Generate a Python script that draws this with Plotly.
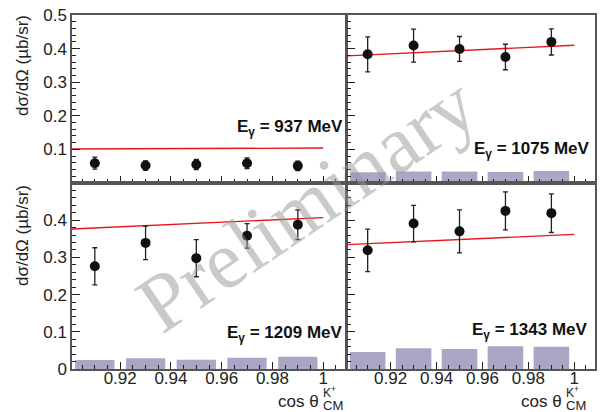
import plotly.graph_objects as go

# cos(theta_CM) bin centres shared by all four photon-energy panels
cos_theta = [0.91, 0.93, 0.95, 0.97, 0.99]

energies = ["937", "1075", "1209", "1343"]

# Measured differential cross sections (ub/sr) and statistical errors
dsdo = {
    "937":  [0.059, 0.052, 0.055, 0.059, 0.051],
    "1075": [0.383, 0.409, 0.399, 0.375, 0.420],
    "1209": [0.276, 0.339, 0.298, 0.358, 0.388],
    "1343": [0.319, 0.391, 0.370, 0.425, 0.419],
}
dsdo_err = {
    "937":  [0.018, 0.014, 0.015, 0.016, 0.014],
    "1075": [0.052, 0.049, 0.037, 0.038, 0.039],
    "1209": [0.050, 0.045, 0.050, 0.033, 0.040],
    "1343": [0.057, 0.049, 0.058, 0.051, 0.052],
}
# Systematic uncertainties (shaded boxes)
syst = {
    "937":  [0.004, 0.004, 0.004, 0.004, 0.004],
    "1075": [0.032, 0.034, 0.034, 0.033, 0.036],
    "1209": [0.024, 0.029, 0.025, 0.030, 0.033],
    "1343": [0.046, 0.056, 0.054, 0.061, 0.060],
}
# Model curves, evaluated at the ends of the angular range
model_x = [0.90, 1.00]
model_y = {
    "937":  [0.101, 0.104],
    "1075": [0.378, 0.410],
    "1209": [0.376, 0.407],
    "1343": [0.334, 0.362],
}

W, H = 605, 412
FONT = "Liberation Sans, Arial, sans-serif"
FS = 17

def px_x(p):
    return p / W

def px_y(p):
    return 1 - p / H

# panel geometry (pixels): left/right columns, top/bottom rows
cols = [(72, 346), (347, 595)]
rows = [(15, 183), (183, 369)]
panel_of = {"937": (0, 0), "1075": (0, 1), "1209": (1, 0), "1343": (1, 1)}

fig = go.Figure()
layout = dict(
    width=W, height=H,
    margin=dict(l=0, r=0, t=0, b=0),
    paper_bgcolor="white", plot_bgcolor="white",
    showlegend=False,
    font=dict(family=FONT, size=FS, color="#111"),
)

annotations = []
for i, e in enumerate(energies):
    r, c = panel_of[e]
    n = "" if i == 0 else str(i + 1)
    xa, ya = "x" + n, "y" + n
    x0, x1 = cols[c]
    y0, y1 = rows[r]
    show_xlab = r == 1
    show_ylab = c == 0
    layout["xaxis" + n] = dict(
        domain=[px_x(x0), px_x(x1)], anchor=ya,
        range=[0.901, 1.009],
        tick0=0.90, dtick=0.02, tickformat=".2~f",
        ticks="inside", ticklen=7, tickwidth=1, tickcolor="#222",
        minor=dict(dtick=0.005, ticks="inside", ticklen=4, tickcolor="#222"),
        showticklabels=show_xlab, ticklabelstandoff=-7,
        tickfont=dict(family=FONT, size=FS, color="#222"),
        showline=True, mirror=True, linecolor="#555", linewidth=1.5,
        showgrid=False, zeroline=False, automargin=False,
    )
    if c == 0 and r == 0:
        ytickvals = [0.1, 0.2, 0.3, 0.4, 0.5]
    else:
        ytickvals = [0, 0.1, 0.2, 0.3, 0.4]
    layout["yaxis" + n] = dict(
        domain=[px_y(y1), px_y(y0)], anchor=xa,
        range=[0, 0.5],
        tickvals=ytickvals, ticktext=[f"{v:g}" for v in ytickvals],
        ticks="inside", ticklen=8, tickwidth=1, tickcolor="#222",
        minor=dict(tickvals=[k / 50 for k in range(26)], ticks="inside",
                   ticklen=4, tickcolor="#222"),
        showticklabels=show_ylab,
        tickfont=dict(family=FONT, size=FS, color="#222"),
        showline=True, mirror=True, linecolor="#555", linewidth=1.5,
        showgrid=False, zeroline=False, automargin=False,
    )

    fig.add_trace(go.Bar(
        x=cos_theta, y=syst[e], width=0.0155,
        marker=dict(color="#aaa7c4", line=dict(width=0)),
        xaxis=xa, yaxis=ya,
    ))
    fig.add_trace(go.Scatter(
        x=model_x, y=model_y[e], mode="lines",
        line=dict(color="#e8141c", width=1.4),
        xaxis=xa, yaxis=ya,
    ))
    fig.add_trace(go.Scatter(
        x=cos_theta, y=dsdo[e], mode="markers",
        marker=dict(color="#111", size=10),
        error_y=dict(type="data", array=dsdo_err[e], color="#222",
                     thickness=1.3, width=2.5),
        xaxis=xa, yaxis=ya,
    ))

    # photon energy label, right-aligned inside the panel
    lab_y = {"937": 128, "1075": 150, "1209": 334, "1343": 331}[e]
    lab_x = {"937": 345, "1075": 592, "1209": 345, "1343": 590}[e]
    annotations.append(dict(
        text=f"<b>E<sub>γ</sub> = {e} MeV</b>",
        xref="paper", yref="paper", x=px_x(lab_x), y=px_y(lab_y),
        xanchor="right", yanchor="middle", showarrow=False,
        font=dict(family=FONT, size=FS, color="#111"),
    ))

# y-axis titles, aligned with the top of each row
for yc in (66, 236):
    annotations.append(dict(
        text="dσ/dΩ (µb/sr)", textangle=-90,
        xref="paper", yref="paper", x=px_x(22), y=px_y(yc),
        xanchor="center", yanchor="middle", showarrow=False,
        font=dict(family=FONT, size=FS, color="#222"),
    ))

# x-axis titles: cos θ with K+ superscript and CM subscript
for xt in (321, 564):
    annotations.append(dict(
        text="cos θ", xref="paper", yref="paper",
        x=px_x(xt), y=0, xanchor="right", yanchor="bottom", yshift=-1,
        showarrow=False, font=dict(family=FONT, size=FS, color="#222"),
    ))
    annotations.append(dict(
        text="K<sup>+</sup>", xref="paper", yref="paper",
        x=px_x(xt), y=px_y(392), xanchor="left", yanchor="middle",
        showarrow=False, font=dict(family=FONT, size=12, color="#222"),
    ))
    annotations.append(dict(
        text="CM", xref="paper", yref="paper",
        x=px_x(xt), y=0, xanchor="left", yanchor="bottom", yshift=-3,
        showarrow=False, font=dict(family=FONT, size=13, color="#222"),
    ))

# "Preliminary" watermark across the figure
annotations.append(dict(
    text="Preliminary", textangle=-34,
    xref="paper", yref="paper", x=px_x(306), y=px_y(204),
    xanchor="center", yanchor="middle", showarrow=False,
    font=dict(family="Liberation Serif, Times New Roman, serif", size=82,
              color="rgba(150,150,150,0.5)"),
))

layout["annotations"] = annotations
fig.update_layout(**layout)
fig.write_html("out.html")
